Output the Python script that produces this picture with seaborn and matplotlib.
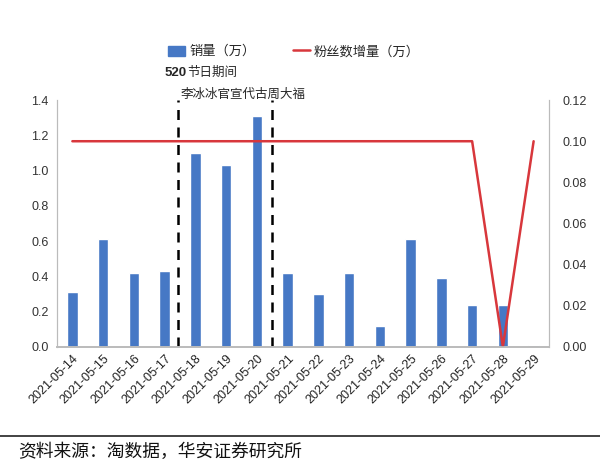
import matplotlib
matplotlib.use("Agg")
import matplotlib.pyplot as plt
import seaborn as sns
import pandas as pd
from matplotlib.patches import Patch
from matplotlib.lines import Line2D

dates = ["2021-05-14", "2021-05-15", "2021-05-16", "2021-05-17", "2021-05-18",
         "2021-05-19", "2021-05-20", "2021-05-21", "2021-05-22", "2021-05-23",
         "2021-05-24", "2021-05-25", "2021-05-26", "2021-05-27", "2021-05-28",
         "2021-05-29"]
sales = [0.31, 0.61, 0.42, 0.43, 1.10, 1.03, 1.31, 0.42, 0.30, 0.42,
         0.12, 0.61, 0.39, 0.24, 0.24, 0.01]
fans = [0.10, 0.10, 0.10, 0.10, 0.10, 0.10, 0.10, 0.10, 0.10, 0.10,
        0.10, 0.10, 0.10, 0.10, 0.00, 0.10]
left_ticks = [0.0, 0.2, 0.4, 0.6, 0.8, 1.0, 1.2, 1.4]
right_ticks = [0.00, 0.02, 0.04, 0.06, 0.08, 0.10, 0.12]
event_bounds = [3.43, 6.5]

sns.set_theme(style="white")
plt.rcParams['font.family'] = ['Noto Sans CJK SC', 'DejaVu Sans']

BLUE = "#4678C5"
RED = "#D8373C"

df = pd.DataFrame({"date": dates, "sales": sales, "fans": fans})
df["idx"] = range(len(dates))

fig = plt.figure(figsize=(6.0, 4.7), dpi=100)
ax = fig.add_axes([0.095, 0.262, 0.82, 0.525])

sns.barplot(data=df, x="date", y="sales", color=BLUE, width=0.34,
            saturation=1, ax=ax)
ax.set_xlim(-0.5, len(dates) - 0.5)
ax.set_ylim(0, 1.4)
ax.set_yticks(left_ticks)
ax.set_yticklabels([f"{v:.1f}" for v in left_ticks], fontsize=9,
                   family=['Liberation Sans', 'DejaVu Sans'], color="#333333")
ax.set_xticks(range(len(dates)))
ax.set_xticklabels(dates, rotation=45, ha="right", rotation_mode="anchor",
                   fontsize=9, family=['Liberation Sans', 'DejaVu Sans'],
                   color="#222222")
ax.set_xlabel("")
ax.set_ylabel("")
ax.tick_params(axis="both", length=0, pad=6)
ax.tick_params(axis="x", pad=4)

for b in event_bounds:
    ax.axvline(b, color="black", linestyle=(0, (4, 3)), linewidth=1.8)

ax2 = ax.twinx()
sns.lineplot(data=df, x="idx", y="fans", color=RED, linewidth=1.8, ax=ax2)
ax2.set_ylim(0, 0.12)
ax2.set_yticks(right_ticks)
ax2.set_yticklabels([f"{v:.2f}" for v in right_ticks], fontsize=9,
                    family=['Liberation Sans', 'DejaVu Sans'], color="#333333")
ax2.set_ylabel("")
ax2.set_xlabel("")
ax2.tick_params(axis="y", length=0, pad=10)
ax2.set_xlim(-0.5, len(dates) - 0.5)

for a in (ax, ax2):
    a.spines["top"].set_visible(False)
    a.spines["left"].set_color("#BBBBBB")
    a.spines["right"].set_color("#BBBBBB")
    a.spines["bottom"].set_color("#BBBBBB")
    a.spines["left"].set_linewidth(0.8)
    a.spines["right"].set_linewidth(0.8)

handles = [Patch(facecolor=BLUE, edgecolor=BLUE),
           Line2D([0], [0], color=RED, linewidth=1.8)]
fig.legend(handles, ["销量（万）", "粉丝数增量（万）"], loc="center",
           bbox_to_anchor=(0.49, 0.89), ncol=2, frameon=False, fontsize=9.5,
           handlelength=1.3, handleheight=0.8, columnspacing=2.8,
           handletextpad=0.3)

fig.text(0.275, 0.845, "520", fontsize=9.5, fontweight="bold",
         family=['Liberation Sans', 'DejaVu Sans'], va="center", ha="left")
fig.text(0.312, 0.845, "节日期间", fontsize=9, va="center", ha="left")
fig.text(0.405, 0.80, "李冰冰官宣代古周大福", fontsize=9, va="center",
         ha="center")

fig.add_artist(Line2D([0.0, 1.0], [0.073, 0.073], color="#222222",
                      linewidth=1.2, transform=fig.transFigure))
fig.text(0.03, 0.038, "资料来源：淘数据，华安证券研究所", fontsize=12.8,
         va="center", ha="left", color="#111111")

fig.savefig("out.png", dpi=100)
